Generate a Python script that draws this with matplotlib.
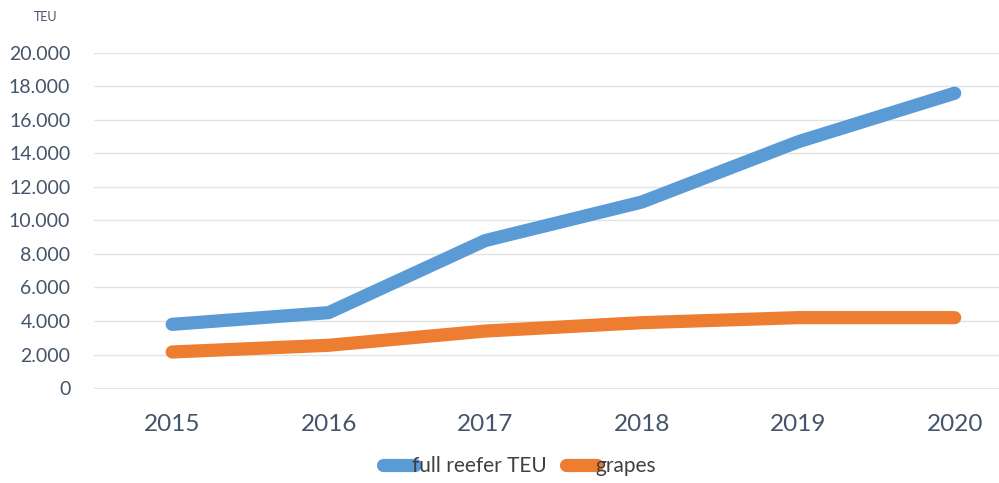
import numpy as np
import matplotlib.pyplot as plt

years = ['2015', '2016', '2017', '2018', '2019', '2020']
reefer_teu = [3800, 4500, 8800, 11100, 14700, 17600]
grapes = [2150, 2550, 3400, 3900, 4200, 4200]

plt.rcParams['font.family'] = ['Lato', 'DejaVu Sans']
fig = plt.figure(figsize=(9.99, 4.83), dpi=100)
ax = fig.add_axes([0.094, 0.1946, 0.94, 0.6957])

blue = '#5B9BD5'
orange = '#ED7D31'
txt = '#44546A'

x = np.arange(len(years))
ax.plot(x, reefer_teu, color=blue, lw=9.5, solid_capstyle='round', solid_joinstyle='round',
        label='full reefer TEU', zorder=3)
ax.plot(x, grapes, color=orange, lw=9.5, solid_capstyle='round', solid_joinstyle='round',
        label='grapes', zorder=3)

ax.set_xlim(-0.5, 5.5)
ax.set_ylim(-60, 20000)
ax.set_yticks(np.arange(0, 20001, 2000))
ax.set_yticklabels(['0'] + ['{:,}'.format(v).replace(',', '.') for v in range(2000, 20001, 2000)])
ax.set_xticks(x)
ax.set_xticklabels(years)
ax.tick_params(axis='y', length=0, labelsize=14, labelcolor=txt, pad=17)
ax.tick_params(axis='x', length=0, labelsize=17.5, labelcolor=txt, pad=18)
ax.grid(axis='y', color='#E3E3E3', lw=1)
ax.set_axisbelow(True)
for s in ax.spines.values():
    s.set_visible(False)

fig.text(0.046, 0.965, 'TEU', fontsize=9, color=txt, ha='center', va='center')

fig.legend(loc='center', bbox_to_anchor=(0.52, 0.035), ncol=2, frameon=False,
           fontsize=15, labelcolor='#404040', handlelength=1.5, handletextpad=-0.1,
           columnspacing=0.9)

fig.savefig('out.png', dpi=100)
